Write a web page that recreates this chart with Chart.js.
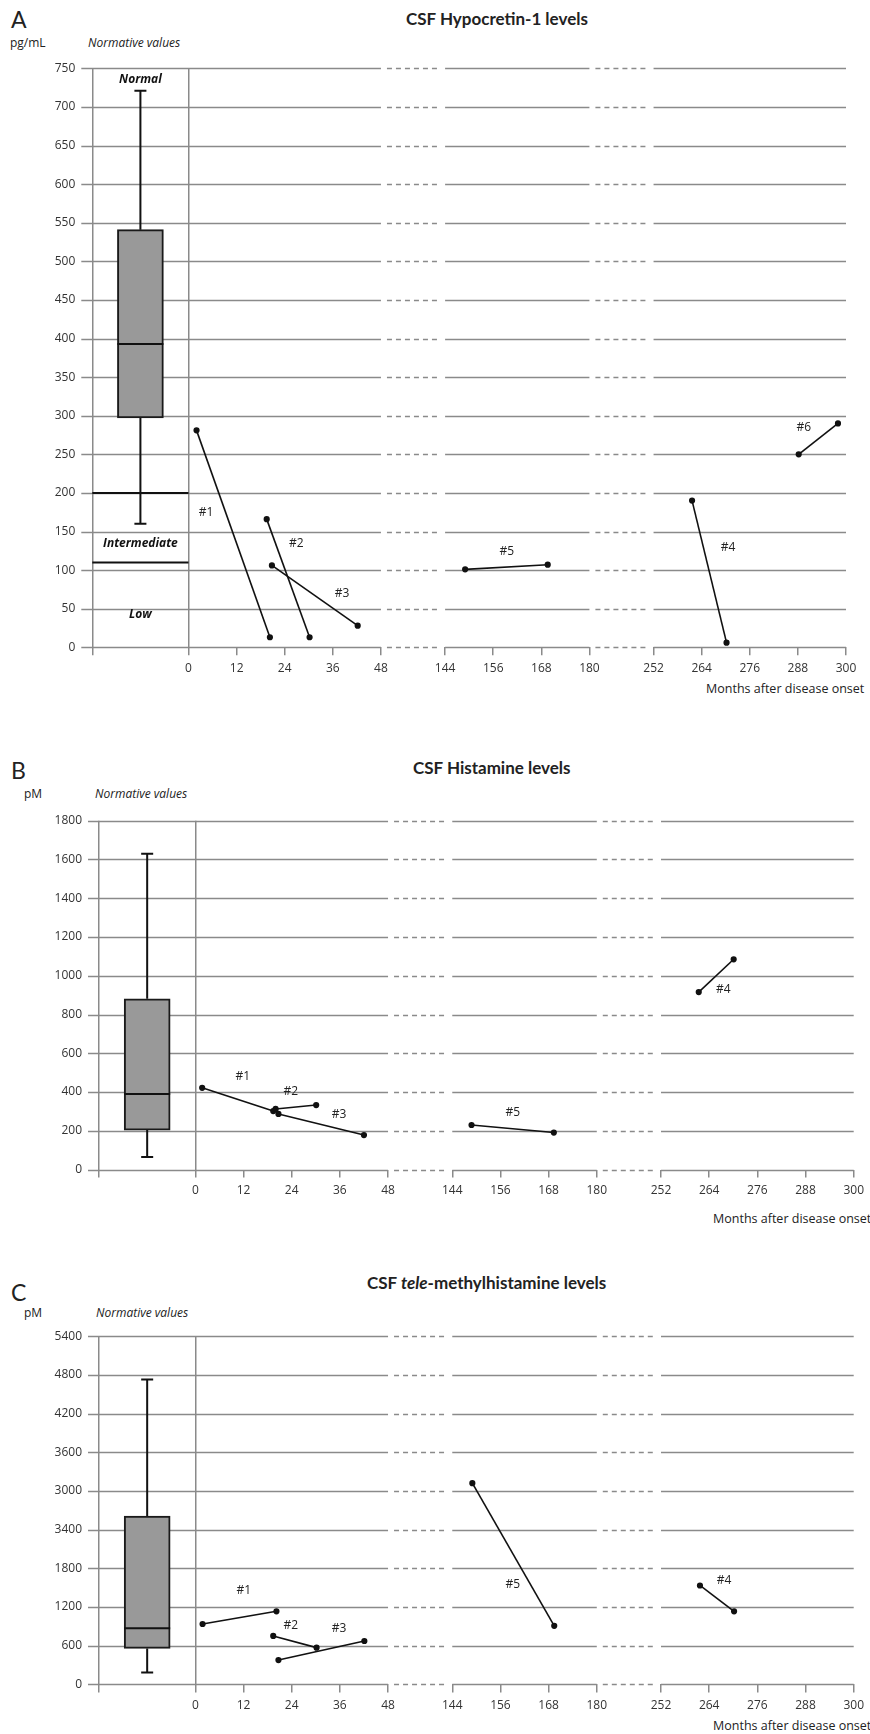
<!DOCTYPE html>
<html>
<head>
<meta charset="utf-8">
<title>CSF Hypocretin-1, Histamine and tele-methylhistamine levels</title>
<script src="https://cdn.jsdelivr.net/npm/chart.js@4"></script>
<style>
    body { margin: 0; background: #fff; font-family: 'Open Sans', Lato, sans-serif; color: #222; }
    #page { position: relative; width: 870px; height: 1734px; overflow: hidden; }
    .txt { position: absolute; white-space: nowrap; line-height: 1; }
    .letter { font-size: 23px; font-family: Lato, sans-serif; }
    .title { font-size: 17px; font-weight: bold; font-family: Lato, sans-serif; }
    .unit { font-size: 12px; }
    .norm { font-size: 12px; font-style: italic; }
    .xlab { font-size: 12.5px; }
    canvas { position: absolute; left: 0; }
</style>
</head>
<body>
<div id="page">
    <div class="txt letter" style="left:11px; top:8px;">A</div>
    <div class="txt title" style="left:406px; top:10px;">CSF Hypocretin-1 levels</div>
    <div class="txt unit" style="left:10px; top:37px;">pg/mL</div>
    <div class="txt norm" style="left:88px; top:37px;">Normative values</div>
    <div class="txt xlab" style="left:706px; top:683px;">Months after disease onset</div>

    <div class="txt letter" style="left:11px; top:759px;">B</div>
    <div class="txt title" style="left:413px; top:759px;">CSF Histamine levels</div>
    <div class="txt unit" style="left:24px; top:788px;">pM</div>
    <div class="txt norm" style="left:95px; top:788px;">Normative values</div>
    <div class="txt xlab" style="left:713px; top:1213px;">Months after disease onset</div>

    <div class="txt letter" style="left:11px; top:1281px;">C</div>
    <div class="txt title" style="left:367px; top:1274px;">CSF <i>tele</i>-methylhistamine levels</div>
    <div class="txt unit" style="left:24px; top:1307px;">pM</div>
    <div class="txt norm" style="left:96px; top:1307px;">Normative values</div>
    <div class="txt xlab" style="left:713px; top:1720px;">Months after disease onset</div>

    <canvas id="chartA"></canvas>
    <canvas id="chartB"></canvas>
    <canvas id="chartC"></canvas>
</div>
<script>
// ---- data ----
const patientNames = ['#1', '#2', '#3', '#4', '#5', '#6'];
const xTickMonths = [null, 0, 12, 24, 36, 48, 144, 156, 168, 180, 252, 264, 276, 288, 300];

// box plots: [min, q1, median, q3, max]
const hcrtBox = [160, 297, 393, 541, 721];
const histBox = [65, 204, 390, 881, 1630];
const tmhBox = [185, 558, 870, 2610, 4727];

// hypocretin-1 (pg/mL): months after onset, levels
const hcrtMonths = [[2, 20.3], [19.5, 30.2], [20.8, 42.2], [261.6, 270.2], [149, 169.6], [288.2, 298]];
const hcrtLevels = [[281, 13], [166, 13], [106, 28], [190, 6], [101, 107], [250, 290]];
const hcrtLabelAt = [[4.4, 174], [26.9, 135], [38.3, 70], [270.6, 129], [159.4, 124], [289.5, 284]];
const hcrtCutoffs = [200, 110];
const hcrtZones = ['Normal', 'Intermediate', 'Low'];
const hcrtZoneAt = [735, 134, 42];
const hcrtTicks = [0, 50, 100, 150, 200, 250, 300, 350, 400, 450, 500, 550, 600, 650, 700, 750];

// histamine (pM)
const histMonths = [[1.7, 19.4], [20, 30.1], [20.7, 42], [261.4, 270.1], [148.8, 169.3]];
const histLevels = [[422, 302], [313, 333], [287, 178], [916, 1085], [230, 191]];
const histLabelAt = [[11.8, 478], [23.8, 403], [35.8, 285], [267.5, 929], [159.1, 292]];
const histTicks = [0, 200, 400, 600, 800, 1000, 1200, 1400, 1600, 1800];

// tele-methylhistamine (pM); tick labels as printed
const tmhMonths = [[1.8, 20.2], [19.4, 30.2], [20.7, 42.1], [261.7, 270.2], [149, 169.4]];
const tmhLevels = [[937, 1134], [751, 570], [378, 673], [1534, 1133], [3120, 909]];
const tmhLabelAt = [[12.1, 1450], [23.8, 906], [35.8, 860], [267.7, 1604], [159.1, 1551]];
const tmhTicks = [0, 600, 1200, 1800, 2400, 3000, 3600, 4200, 4800, 5400];
const tmhTickLabels = ['0', '600', '1200', '1800', '3400', '3000', '3600', '4200', '4800', '5400'];

// ---- broken axis: months -> plot units ----
// [-24,0] normative box, [0,48] months 0-48, [64,100] months 144-180, [116,164] months 252-300
const BOX_X = -12;
const segments = [[-24, 48], [64, 100], [116, 164]];
const gaps = [[48, 64], [100, 116]];
function toU(m) {
    if (m <= 48) return m;
    if (m <= 180) return m - 80;
    return m - 136;
}
const xTickU = xTickMonths.map(m => m === null ? -24 : toU(m));

const GRID = '#8a8a8a';
const INK = '#111';
const FONT = "'Open Sans', Lato, sans-serif";
Chart.defaults.font.family = FONT;
Chart.defaults.color = '#333';

const brokenGrid = {
    id: 'brokenGrid',
    beforeDatasetsDraw(chart) {
        const { ctx, scales: { x, y } } = chart;
        ctx.save();
        ctx.strokeStyle = GRID;
        ctx.lineWidth = 1.5;
        y.ticks.forEach(t => {
            const py = Math.round(y.getPixelForValue(t.value)) + 0.5;
            ctx.setLineDash([]);
            segments.forEach(([a, b], i) => {
                ctx.beginPath();
                ctx.moveTo(x.getPixelForValue(a) - (i === 0 ? 11 : 0), py);
                ctx.lineTo(x.getPixelForValue(b), py);
                ctx.stroke();
            });
            ctx.setLineDash([5, 4]);
            gaps.forEach(([a, b]) => {
                ctx.beginPath();
                ctx.moveTo(x.getPixelForValue(a) + 6, py);
                ctx.lineTo(x.getPixelForValue(b) - 8, py);
                ctx.stroke();
            });
        });
        ctx.restore();
    },
    afterDatasetsDraw(chart, args, opts) {
        const { ctx, scales: { x, y } } = chart;
        const bar = chart.getDatasetMeta(0).data[0];
        const [mn, q1, med, q3, mx] = opts.box;
        const half = bar.width / 2;
        const capHalf = 6;
        ctx.save();
        ctx.strokeStyle = INK;
        ctx.lineWidth = 2;
        ctx.beginPath();
        ctx.moveTo(bar.x, y.getPixelForValue(q3)); ctx.lineTo(bar.x, y.getPixelForValue(mx));
        ctx.moveTo(bar.x - capHalf, y.getPixelForValue(mx)); ctx.lineTo(bar.x + capHalf, y.getPixelForValue(mx));
        ctx.moveTo(bar.x, y.getPixelForValue(q1)); ctx.lineTo(bar.x, y.getPixelForValue(mn));
        ctx.moveTo(bar.x - capHalf, y.getPixelForValue(mn)); ctx.lineTo(bar.x + capHalf, y.getPixelForValue(mn));
        ctx.moveTo(bar.x - half, y.getPixelForValue(med)); ctx.lineTo(bar.x + half, y.getPixelForValue(med));
        ctx.stroke();

        (opts.cutoffs || []).forEach(v => {
            ctx.beginPath();
            ctx.moveTo(x.getPixelForValue(-24), y.getPixelForValue(v));
            ctx.lineTo(x.getPixelForValue(0), y.getPixelForValue(v));
            ctx.stroke();
        });

        ctx.fillStyle = '#111';
        ctx.textAlign = 'center';
        ctx.textBaseline = 'middle';
        ctx.font = 'italic bold 12px ' + FONT;
        (opts.zones || []).forEach((z, i) => ctx.fillText(z, bar.x, y.getPixelForValue(opts.zoneAt[i])));

        ctx.fillStyle = '#222';
        ctx.font = '12px ' + FONT;
        opts.labelAt.forEach(([m, v], i) => ctx.fillText(patientNames[i], x.getPixelForValue(toU(m)), y.getPixelForValue(v)));
        ctx.restore();
    }
};

function makePanel(id, top, height, pad, yCfg, box, months, levels, extra) {
    const canvas = document.getElementById(id);
    canvas.style.top = top + 'px';
    canvas.width = 870;
    canvas.height = height;
    canvas.style.width = '870px';
    canvas.style.height = height + 'px';

    const datasets = [{
        type: 'bar',
        data: [{ x: BOX_X, y: [box[1], box[3]] }],
        backgroundColor: '#999999',
        borderColor: '#1a1a1a',
        borderWidth: 2,
        borderSkipped: false,
        barThickness: 46
    }];
    months.forEach((ms, i) => {
        datasets.push({
            type: 'scatter',
            showLine: true,
            data: ms.map((m, j) => ({ x: toU(m), y: levels[i][j] })),
            borderColor: INK,
            backgroundColor: INK,
            borderWidth: 1.6,
            pointRadius: 2.3
        });
    });

    return new Chart(canvas, {
        type: 'scatter',
        data: { datasets },
        plugins: [brokenGrid],
        options: {
            responsive: false,
            animation: false,
            events: [],
            layout: { padding: pad },
            plugins: {
                legend: { display: false },
                tooltip: { enabled: false },
                brokenGrid: Object.assign({ box }, extra)
            },
            scales: {
                x: {
                    type: 'linear',
                    min: -24,
                    max: 164,
                    offset: false,
                    afterBuildTicks: s => { s.ticks = xTickU.map(v => ({ value: v })); },
                    afterFit: s => { s.height = 30; },
                    ticks: {
                        autoSkip: false,
                        maxRotation: 0,
                        padding: 6,
                        font: { size: 12 },
                        callback: (v, i) => xTickMonths[i] === null ? '' : String(xTickMonths[i])
                    },
                    grid: {
                        offset: false,
                        color: c => (c.tick && (c.tick.value === -24 || c.tick.value === 0)) ? GRID : 'transparent',
                        tickColor: GRID,
                        lineWidth: 1.5,
                        tickWidth: 1.5,
                        tickLength: 8
                    },
                    border: { display: false }
                },
                y: {
                    type: 'linear',
                    min: 0,
                    max: yCfg.ticks[yCfg.ticks.length - 1],
                    afterBuildTicks: s => { s.ticks = yCfg.ticks.map(v => ({ value: v })); },
                    afterFit: s => { s.width = 80; },
                    ticks: {
                        padding: 6,
                        font: { size: 12 },
                        callback: (v, i) => yCfg.labels ? yCfg.labels[i] : String(v)
                    },
                    grid: { color: 'transparent', tickLength: 11 },
                    border: { display: false }
                }
            }
        }
    });
}

makePanel('chartA', 0, 710, { left: 12.3, right: 24, top: 68.3, bottom: 32.7 },
    { ticks: hcrtTicks }, hcrtBox, hcrtMonths, hcrtLevels,
    { labelAt: hcrtLabelAt, cutoffs: hcrtCutoffs, zones: hcrtZones, zoneAt: hcrtZoneAt });

makePanel('chartB', 740, 500, { left: 19, right: 13.5, top: 80.7, bottom: 40.4 },
    { ticks: histTicks }, histBox, histMonths, histLevels,
    { labelAt: histLabelAt });

makePanel('chartC', 1255, 479, { left: 19, right: 15.5, top: 81.2, bottom: 19.6 },
    { ticks: tmhTicks, labels: tmhTickLabels }, tmhBox, tmhMonths, tmhLevels,
    { labelAt: tmhLabelAt });
</script>
</body>
</html>
